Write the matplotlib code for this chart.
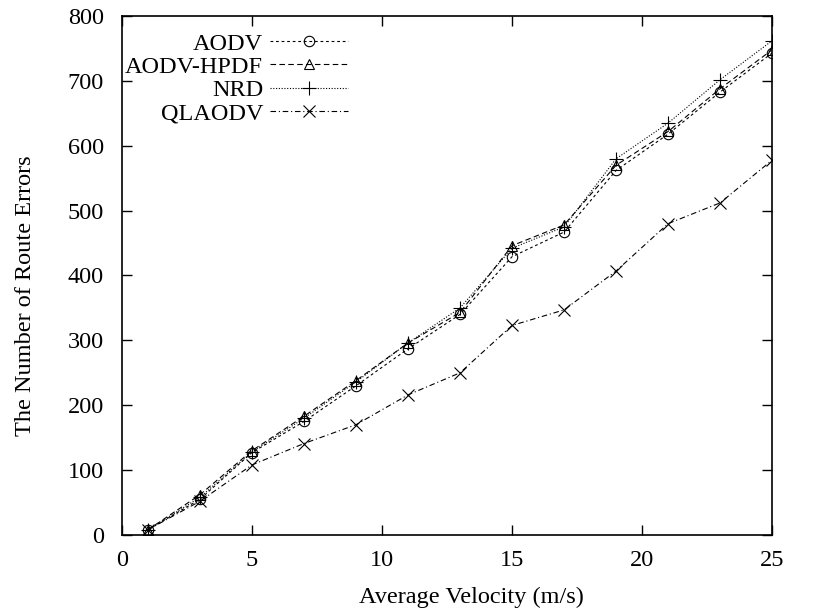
import matplotlib
matplotlib.use('Agg')
import matplotlib.pyplot as plt

plt.rcParams['font.family'] = ['Liberation Serif', 'DejaVu Serif']

velocity = [1, 3, 5, 7, 9, 11, 13, 15, 17, 19, 21, 23, 25]
aodv = [8, 55, 127, 175, 230, 287, 340, 429, 467, 562, 618, 683, 743]
aodv_hpdf = [8, 62, 130, 183, 238, 296, 343, 446, 478, 570, 622, 688, 748]
nrd = [8, 58, 128, 180, 236, 296, 350, 442, 475, 580, 635, 702, 762]
qlaodv = [8, 52, 108, 141, 170, 216, 250, 323, 347, 407, 480, 512, 578]

fs = 17.5

fig = plt.figure(figsize=(8.18, 6.11), dpi=100)
ax = fig.add_axes([0.149, 0.1244, 0.795, 0.8494])

ax.plot(velocity, aodv, color='k', lw=0.8, ls=(0, (2.5, 2.5)), marker='o', ms=7.5,
        mfc='none', mew=0.8, label='AODV')
ax.plot(velocity, aodv_hpdf, color='k', lw=0.8, ls=(0, (5, 3)), marker='^', ms=7,
        mfc='none', mew=0.8, label='AODV-HPDF')
ax.plot(velocity, nrd, color='k', lw=0.8, ls=(0, (1, 1.5)), marker='+', ms=9.5,
        mew=0.8, label='NRD')
ax.plot(velocity, qlaodv, color='k', lw=0.8, ls=(0, (5, 2.5, 1, 2.5)), marker='x', ms=8.5,
        mew=0.8, label='QLAODV')

ax.set_xlim(0, 25)
ax.set_ylim(0, 800)
ax.set_xticks([0, 5, 10, 15, 20, 25])
ax.set_yticks(range(0, 801, 100))
ax.tick_params(direction='in', length=7, width=1, labelsize=fs, top=True, right=True)
ax.tick_params(axis='y', pad=13)
ax.tick_params(axis='x', pad=11)
for s in ax.spines.values():
    s.set_linewidth(1.2)

ax.set_xlabel('Average Velocity (m/s)', fontsize=fs, va='center')
ax.set_ylabel('The Number of Route Errors', fontsize=fs, va='center')
ax.xaxis.set_label_coords(0.538, -0.12)
ax.yaxis.set_label_coords(-0.148, 0.462)

leg = ax.legend(loc='upper right', bbox_to_anchor=(0.348, 0.968), frameon=False,
                markerfirst=False, fontsize=fs, handlelength=3.2, handletextpad=0.3,
                labelspacing=0.05, borderaxespad=0, borderpad=0)
for t in leg.get_texts():
    t.set_ha('right')
leg._legend_box.align = 'right'

fig.savefig('out.png', dpi=100)
